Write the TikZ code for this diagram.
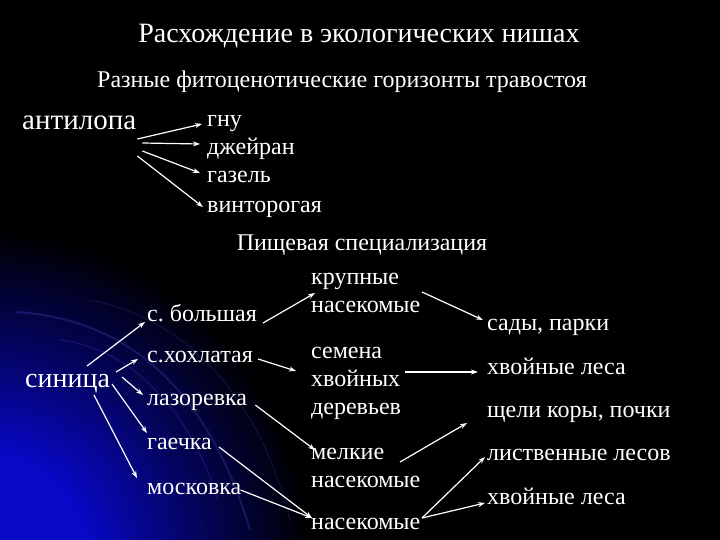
\documentclass[tikz,border=0pt]{standalone}
\usepackage{fontspec}
\setmainfont{Liberation Serif}
\usetikzlibrary{arrows.meta}

\definecolor{glowblue}{RGB}{8,8,200}
\pgfdeclareradialshading{glow}{\pgfpoint{0bp}{0bp}}{color(0bp)=(glowblue); color(8bp)=(glowblue); color(16bp)=(glowblue!50!black); color(25bp)=(black); color(50bp)=(black)}

\tikzset{
  item/.style={text=white, anchor=base west, inner sep=0pt, align=left, font=\fontsize{24}{28}\selectfont},
  big/.style={item, font=\fontsize{29}{32}\selectfont},
  head/.style={item, anchor=base},
  arr/.style={white, line width=1.2pt, -{Stealth[length=7pt,width=5pt]}}
}

\begin{document}
\begin{tikzpicture}[x=1pt,y=-1pt]
    % фон
    \fill[black] (0,0) rectangle (720,540);
    \begin{scope}
        \clip (0,0) rectangle (720,540);
        \shade[shading=glow] (-20,560) circle (330);
        \draw[glowblue!70!white, opacity=.25, line width=2pt] (15,312) .. controls (120,318) and (205,380) .. (250,530);
        \draw[glowblue!70!white, opacity=.2, line width=1.5pt] (60,340) .. controls (130,348) and (190,410) .. (218,500);
        \draw[glowblue!70!white, opacity=.15, line width=1.5pt] (90,300) .. controls (190,320) and (260,400) .. (290,520);
    \end{scope}
    \useasboundingbox (0,0) rectangle (720,540);

    % заголовки
    \node[head, font=\fontsize{28}{32}\selectfont] (title) at (359,43) {Расхождение в экологических нишах};
    \node[head] (sub) at (342,88) {Разные фитоценотические горизонты травостоя};
    \node[head] (pish) at (362,250) {Пищевая специализация};

    % антилопа
    \node[big] (ant) at (22,130) {антилопа};
    \node[item] (gnu) at (207,127) {гну};
    \node[item] (dzh) at (207,155) {джейран};
    \node[item] (gaz) at (207,183) {газель};
    \node[item] (vint) at (207,212) {винторогая};

    % синица
    \node[big, font=\fontsize{28}{32}\selectfont] (sin) at (25,387) {синица};
    \node[item] (bol) at (147,321) {с.\ большая};
    \node[item] (hoh) at (147,362) {с.хохлатая};
    \node[item] (laz) at (147,405) {лазоревка};
    \node[item] (gaech) at (147,449) {гаечка};
    \node[item] (mosk) at (147,494) {московка};

    % пища
    \node[item] (krup) at (311,312) {крупные\\насекомые};
    \node[item] (sem) at (311,414) {семена\\хвойных\\деревьев};
    \node[item] (melk) at (311,487) {мелкие\\насекомые};
    \node[item] (nas) at (311,529) {насекомые};

    % места
    \node[item] (sady) at (487,330) {сады, парки};
    \node[item] (hvoyA) at (487,374) {хвойные леса};
    \node[item] (scheli) at (487,417) {щели коры, почки};
    \node[item] (list) at (487,460) {лиственные лесов};
    \node[item] (hvoyB) at (487,504) {хвойные леса};

    % стрелки антилопа
    \draw[arr] ([shift={(1,9)}]ant.base east) -- ([shift={(-5,-3)}]gnu.base west);
    \draw[arr] ([shift={(6,13)}]ant.base east) -- ([shift={(-7,-11)}]dzh.base west);
    \draw[arr] ([shift={(6,21)}]ant.base east) -- ([shift={(-7,-10)}]gaz.base west);
    \draw[arr] ([shift={(1,26)}]ant.base east) -- ([shift={(-4,-5)}]vint.base west);

    % стрелки синица
    \draw[arr] ([shift={(62,-21)}]sin.base west) -- ([shift={(-2,1)}]bol.base west);
    \draw[arr] ([shift={(91,-15)}]sin.base west) -- ([shift={(-9,-3)}]hoh.base west);
    \draw[arr] ([shift={(97,-10)}]sin.base west) -- ([shift={(-4,-10)}]laz.base west);
    \draw[arr] ([shift={(87,-3)}]sin.base west) -- ([shift={(0,-16)}]gaech.base west);
    \draw[arr] ([shift={(69,8)}]sin.base west) -- ([shift={(-10,-16)}]mosk.base west);

    % виды -> пища
    \draw[arr] ([shift={(6,2)}]bol.base east) -- ([shift={(4,-19)}]krup.base west);
    \draw[arr] ([shift={(5,-3)}]hoh.base east) -- ([shift={(-15,-43)}]sem.base west);
    \draw[arr] ([shift={(8,0)}]laz.base east) -- ([shift={(4,-37)}]melk.base west);
    \draw[arr] ([shift={(7,-2)}]gaech.base east) -- ([shift={(1,-11)}]nas.base west);
    \draw[arr] ([shift={(-1,-4)}]mosk.base east) -- ([shift={(1,-11)}]nas.base west);

    % пища -> места
    \draw[arr] ([shift={(111,-20)}]krup.base west) -- ([shift={(-4,-10)}]sady.base west);
    \draw[arr] ([shift={(94,-42)}]sem.base west) -- ([shift={(-9,-2)}]hvoyA.base west);
    \draw[arr] ([shift={(89,-25)}]melk.base west) -- ([shift={(-20,6)}]scheli.base west);
    \draw[arr] ([shift={(111,-11)}]nas.base west) -- ([shift={(-2,-3)}]list.base west);
    \draw[arr] ([shift={(111,-11)}]nas.base west) -- ([shift={(-2,-1)}]hvoyB.base west);
\end{tikzpicture}
\end{document}
